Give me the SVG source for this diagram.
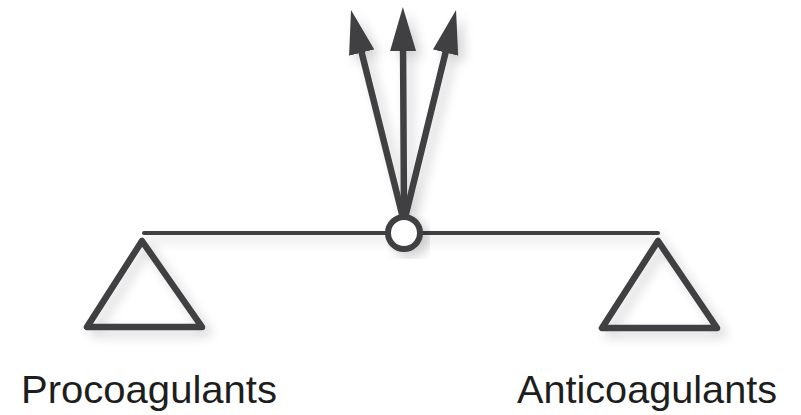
<svg xmlns="http://www.w3.org/2000/svg" width="801" height="415" viewBox="0 0 801 415">
<style>
.ln{stroke:#404042;fill:none;stroke-linecap:round;stroke-linejoin:round}
.lbl{font-family:"Liberation Sans",Arial,sans-serif;font-size:39px;fill:#1e1e1e}
</style>
<defs>
<filter id="sh" x="-20%" y="-20%" width="150%" height="150%">
<feGaussianBlur in="SourceAlpha" stdDeviation="6"/>
<feOffset dx="6" dy="6" result="b"/>
<feComponentTransfer><feFuncA type="linear" slope="0.18"/></feComponentTransfer>
<feMerge><feMergeNode/><feMergeNode in="SourceGraphic"/></feMerge>
</filter>
<marker id="ah" markerUnits="userSpaceOnUse" markerWidth="44" markerHeight="26" refX="14" refY="13" viewBox="0 0 44 26" orient="auto">
<path d="M0,0 L44,13 L0,26 Z" fill="#404042"/>
</marker>
</defs>
<g id="connectors" filter="url(#sh)">
<line class="ln" x1="403" y1="218" x2="358.3" y2="39.1" stroke-width="6.5" marker-end="url(#ah)"/>
<line class="ln" x1="404" y1="218" x2="403" y2="37" stroke-width="6.5" marker-end="url(#ah)"/>
<line class="ln" x1="405" y1="218" x2="448.9" y2="39.1" stroke-width="6.5" marker-end="url(#ah)"/>
<line class="ln" x1="144" y1="233" x2="658" y2="233" stroke-width="4" stroke-linecap="butt"/>
</g>
<g id="pivot" filter="url(#sh)">
<circle cx="404" cy="233" r="16" fill="#fff" stroke="#404042" stroke-width="6"/>
</g>
<g id="left-pan" filter="url(#sh)">
<polygon class="ln" points="142,241 87,327 202,327" fill="#fff" stroke-width="6.5"/>
</g>
<g id="right-pan" filter="url(#sh)">
<polygon class="ln" points="658,241 602,328 717,328" fill="#fff" stroke-width="6.5"/>
</g>
<g id="procoagulants">
<text class="lbl" x="21" y="403" textLength="256" lengthAdjust="spacingAndGlyphs">Procoagulants</text>
</g>
<g id="anticoagulants">
<text class="lbl" x="517" y="403" textLength="260" lengthAdjust="spacingAndGlyphs">Anticoagulants</text>
</g>
</svg>
